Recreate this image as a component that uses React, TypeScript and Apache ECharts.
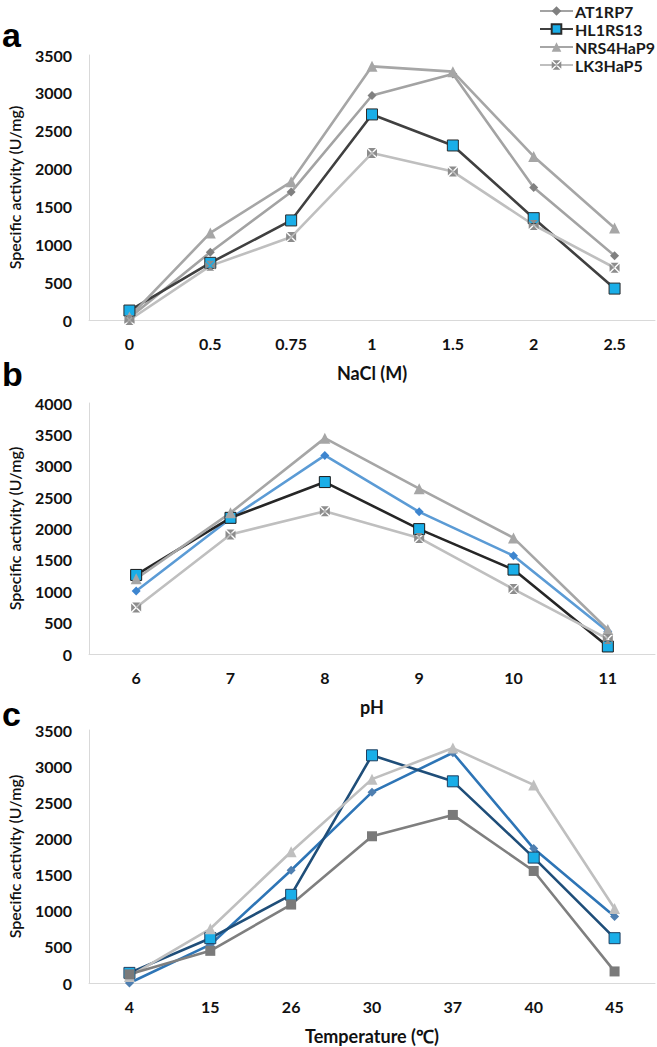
import React, { useEffect, useRef } from "react";
import * as echarts from "echarts";

// ---------- data ----------
const seriesNames = ["AT1RP7", "HL1RS13", "NRS4HaP9", "LK3HaP5"];

const naclCategories = ["0", "0.5", "0.75", "1", "1.5", "2", "2.5"];
const naclAT1RP7 = [30, 895, 1690, 2965, 3250, 1750, 850];
const naclHL1RS13 = [125, 755, 1315, 2715, 2305, 1345, 415];
const naclNRS4HaP9 = [40, 1150, 1825, 3350, 3280, 2160, 1215];
const naclLK3HaP5 = [0, 715, 1095, 2205, 1960, 1255, 690];

const phCategories = ["6", "7", "8", "9", "10", "11"];
const phAT1RP7 = [1005, 2160, 3165, 2265, 1565, 360];
const phHL1RS13 = [1260, 2170, 2740, 1990, 1345, 120];
const phNRS4HaP9 = [1200, 2250, 3440, 2635, 1850, 390];
const phLK3HaP5 = [740, 1905, 2275, 1850, 1035, 240];

const tempCategories = ["4", "15", "26", "30", "37", "40", "45"];
const tempAT1RP7 = [0, 530, 1560, 2640, 3185, 1860, 920];
const tempHL1RS13 = [140, 620, 1220, 3150, 2790, 1735, 620];
const tempNRS4HaP9 = [90, 750, 1815, 2820, 3250, 2740, 1030];
const tempLK3HaP5 = [120, 445, 1085, 2030, 2325, 1550, 160];

const panelMax = [3500, 4000, 3500];
const yTitle = "Specific activity (U/mg)";
const xTitles = ["NaCl (M)", "pH", "Temperature (\u2103)"];
const panelLetters = ["a", "b", "c"];

// ---------- styles ----------
const FONT = "Lato, 'Open Sans', sans-serif";
const XSQUARE = "path://M1,0L9,0L5,4Z M10,1L10,9L6,5Z M9,10L1,10L5,6Z M0,9L0,1L4,5Z";
const BLUE_SQ = "#1aaee8";

type Sty = { line: string; symbol: string; size: number; fill: string; border?: string; bw?: number };

const panelStyles: Sty[][] = [
  [
    { line: "#a3a3a3", symbol: "diamond", size: 9, fill: "#808080" },
    { line: "#404040", symbol: "rect", size: 11, fill: BLUE_SQ, border: "#2b2b2b", bw: 1 },
    { line: "#a6a6a6", symbol: "triangle", size: 11, fill: "#a6a6a6" },
    { line: "#bfbfbf", symbol: XSQUARE, size: 10, fill: "#8c8c8c" },
  ],
  [
    { line: "#5b9bd5", symbol: "diamond", size: 9, fill: "#3d85cf" },
    { line: "#262626", symbol: "rect", size: 11, fill: BLUE_SQ, border: "#1a1a1a", bw: 1 },
    { line: "#a6a6a6", symbol: "triangle", size: 11, fill: "#a6a6a6" },
    { line: "#bfbfbf", symbol: XSQUARE, size: 10, fill: "#8c8c8c" },
  ],
  [
    { line: "#2e75b6", symbol: "diamond", size: 9, fill: "#4f7fb0" },
    { line: "#1f4e79", symbol: "rect", size: 11, fill: BLUE_SQ, border: "#1f3f60", bw: 1 },
    { line: "#bfbfbf", symbol: "triangle", size: 11, fill: "#bfbfbf" },
    { line: "#7f7f7f", symbol: "rect", size: 10, fill: "#7a7a7a" },
  ],
];

const grids = [
  { left: 89, width: 566, top: 55, height: 265, outerBoundsMode: "none" },
  { left: 89, width: 566, top: 403, height: 251, outerBoundsMode: "none" },
  { left: 89, width: 566, top: 730, height: 253, outerBoundsMode: "none" },
];

export default function App() {
  const ref = useRef<HTMLDivElement>(null);

  useEffect(() => {
    if (!ref.current) return;
    const chart = echarts.init(ref.current, undefined, { renderer: "svg" });

    const cats = [naclCategories, phCategories, tempCategories];
    const data = [
      [naclAT1RP7, naclHL1RS13, naclNRS4HaP9, naclLK3HaP5],
      [phAT1RP7, phHL1RS13, phNRS4HaP9, phLK3HaP5],
      [tempAT1RP7, tempHL1RS13, tempNRS4HaP9, tempLK3HaP5],
    ];

    const series: any[] = [];
    for (let p = 0; p < 3; p++) {
      for (let s = 0; s < 4; s++) {
        const st = panelStyles[p][s];
        series.push({
          type: "line",
          name: seriesNames[s],
          xAxisIndex: p,
          yAxisIndex: p,
          data: data[p][s],
          symbol: st.symbol,
          symbolSize: st.size,
          showSymbol: true,
          lineStyle: { color: st.line, width: 2.6 },
          itemStyle: {
            color: st.fill,
            borderColor: st.border || st.fill,
            borderWidth: st.bw || 0,
            opacity: 1,
          },
          emphasis: { disabled: true },
        });
      }
    }

    const axisLabel = { fontFamily: FONT, fontWeight: "bold", fontSize: 16, color: "#111" };

    chart.setOption({
      animation: false,
      backgroundColor: "#ffffff",
      legend: {
        data: seriesNames,
        orient: "vertical",
        left: 534,
        top: -2,
        itemWidth: 33,
        itemHeight: 12,
        itemGap: 2,
        textStyle: {
          fontFamily: FONT,
          fontWeight: "bold",
          fontSize: 16,
          lineHeight: 16,
          color: "#1a1a1a",
          padding: [0, 0, 0, -3],
        },
      },
      grid: grids,
      xAxis: grids.map((_, i) => ({
        type: "category",
        gridIndex: i,
        data: cats[i],
        boundaryGap: true,
        axisLine: { show: true, lineStyle: { color: "#d9d9d9", width: 1 } },
        axisTick: { show: false },
        axisLabel: { ...axisLabel, margin: 15 },
        splitLine: { show: false },
        name: xTitles[i],
        nameLocation: "middle",
        nameGap: 44,
        nameTextStyle: { fontFamily: FONT, fontWeight: "bold", fontSize: 18, color: "#111" },
      })),
      yAxis: grids.map((_, i) => ({
        type: "value",
        gridIndex: i,
        min: 0,
        max: panelMax[i],
        interval: 500,
        axisLine: { show: true, lineStyle: { color: "#d9d9d9", width: 1 } },
        axisTick: { show: false },
        splitLine: { show: false },
        axisLabel: { ...axisLabel, margin: 17, formatter: (v: number) => String(v) },
        name: yTitle,
        nameLocation: "middle",
        nameGap: 67,
        nameRotate: 90,
        nameTextStyle: { fontFamily: FONT, fontWeight: 600, fontSize: 16, color: "#111" },
      })),
      graphic: panelLetters.map((t, i) => ({
        type: "text",
        left: 2,
        top: [18, 357, 697][i],
        style: {
          text: t,
          fontFamily: "'Liberation Sans', Arial, sans-serif",
          fontWeight: "bold",
          fontSize: 34,
          fill: "#000",
        },
      })),
      series,
    });

    return () => chart.dispose();
  }, []);

  return (
    <div
      ref={ref}
      style={{ position: "absolute", left: 0, top: 0, width: 657, height: 1047, background: "#fff" }}
    />
  );
}
